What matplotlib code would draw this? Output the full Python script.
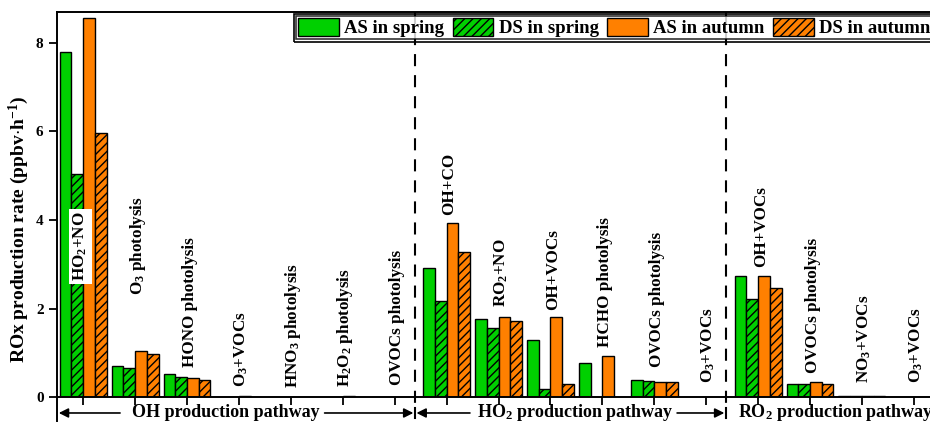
import matplotlib
matplotlib.use("Agg")
import matplotlib.pyplot as plt
from matplotlib.patches import Rectangle
import numpy as np

plt.rcParams['font.family'] = ['Liberation Serif', 'DejaVu Serif']
plt.rcParams['font.weight'] = 'bold'
plt.rcParams['mathtext.fontset'] = 'custom'
plt.rcParams['mathtext.rm'] = 'Liberation Serif:bold'
plt.rcParams['mathtext.it'] = 'Liberation Serif:bold'
plt.rcParams['mathtext.bf'] = 'Liberation Serif:bold'
plt.rcParams['hatch.linewidth'] = 1.0

# Reaction pathways (rotated labels above each bar group)
pathways = [
    r'HO$_2$+NO', r'O$_3$ photolysis', 'HONO photolysis', r'O$_3$+VOCs',
    r'HNO$_3$ photolysis', r'H$_2$O$_2$ photolysis', 'OVOCs photolysis',
    'OH+CO', r'RO$_2$+NO', 'OH+VOCs', 'HCHO photolysis', 'OVOCs photolysis',
    r'O$_3$+VOCs',
    'OH+VOCs', 'OVOCs photolysis', r'NO$_3$+VOCs', r'O$_3$+VOCs',
]

# Production rates (ppbv h-1)
as_spring = [7.78, 0.70, 0.52, 0.01, 0.01, 0.01, 0.00,
             2.91, 1.76, 1.29, 0.78, 0.38, 0.01,
             2.74, 0.31, 0.02, 0.01]
ds_spring = [5.03, 0.65, 0.46, 0.01, 0.01, 0.01, 0.00,
             2.17, 1.57, 0.19, 0.00, 0.37, 0.01,
             2.21, 0.29, 0.02, 0.01]
as_autumn = [8.56, 1.05, 0.44, 0.02, 0.01, 0.04, 0.00,
             3.92, 1.82, 1.82, 0.92, 0.35, 0.01,
             2.73, 0.34, 0.02, 0.01]
ds_autumn = [5.95, 0.98, 0.40, 0.01, 0.01, 0.01, 0.00,
             3.27, 1.71, 0.29, 0.00, 0.35, 0.01,
             2.46, 0.31, 0.02, 0.01]

series_names = ['AS in spring', 'DS in spring', 'AS in autumn', 'DS in autumn']

# Heights at which the rotated pathway labels start
label_y = [3.4, 2.3, 0.68, 0.23, 0.2, 0.23, 0.27,
           4.1, 2.03, 1.97, 1.13, 0.69, 0.32,
           2.94, 0.55, 0.32, 0.32]

groups = ['OH production pathway', r'HO$_2$ production pathway',
          r'RO$_2$ production pathway']

GREEN = '#00D000'
ORANGE = '#FF8000'

fig = plt.figure(figsize=(9.30, 4.25), dpi=100)
ax = fig.add_axes([0.061, 0.0652, 0.9495, 0.9077])

x = np.arange(len(pathways))
w = 0.226
styles = [(GREEN, None), (GREEN, '////'), (ORANGE, None), (ORANGE, '////')]
for k, (vals, (col, hatch)) in enumerate(zip([as_spring, ds_spring, as_autumn, ds_autumn], styles)):
    ax.bar(x + (k - 1.5) * w, vals, width=w, color=col, edgecolor='black',
           linewidth=1.0, hatch=hatch, label=series_names[k], zorder=2)

ax.set_xlim(-0.51, 16.5)
ax.set_ylim(0, 8.7)
ax.set_xticks(x)
ax.set_xticklabels([])
ax.set_yticks([0, 2, 4, 6, 8])
ax.tick_params(axis='both', direction='out', length=6, width=1.3, labelsize=11)
for lbl in ax.get_yticklabels():
    lbl.set_fontweight('bold')
for side in ['left', 'bottom', 'top']:
    ax.spines[side].set_linewidth(1.4)
ax.spines['right'].set_visible(False)

ax.set_ylabel(r'ROx production rate (ppbv$\cdot$h$^{-1}$)', fontsize=14,
              fontweight='bold')
ax.yaxis.set_label_coords(-0.029, 0.435)

# Pathway labels
for i, (name, yy) in enumerate(zip(pathways, label_y)):
    if i == 0:
        ax.text(i - 0.06, yy, name, rotation=90, ha='center', va='center',
                fontsize=12.3, fontweight='bold', zorder=4,
                bbox=dict(facecolor='white', edgecolor='none', pad=2.0))
    else:
        ax.text(i + 0.05, yy, name, rotation=90, ha='center', va='bottom',
                fontsize=12.3, fontweight='bold', zorder=4)

# Group separators
for xs in [6.39, 12.38]:
    ax.plot([xs, xs], [8.7, -0.2], color='black', lw=1.5,
            dashes=(5.8, 4.3), clip_on=False, zorder=1)

# Left spine extends down to the pathway row
ax.plot([-0.51, -0.51], [0, -0.53], color='black', lw=1.4, clip_on=False)

# Pathway arrows below the axis
yrow = -0.354
arrow_kw = dict(arrowstyle='-|>', color='black', lw=1.2,
                mutation_scale=14, shrinkA=0, shrinkB=0)
arrows = [(0.71, -0.47), (4.65, 6.36), (7.45, 6.42), (11.44, 12.35)]
for x0, x1 in arrows:
    ax.annotate('', xy=(x1, yrow), xytext=(x0, yrow),
                arrowprops=arrow_kw, annotation_clip=False)
for xb in [6.39, 12.38]:
    ax.plot([xb, xb], [yrow - 0.12, yrow + 0.12], color='black', lw=1.5,
            clip_on=False)

ax.text(2.75, yrow, groups[0], ha='center', va='center', fontsize=13,
        fontweight='bold')
ax.text(9.49, yrow, groups[1], ha='center', va='center', fontsize=13,
        fontweight='bold')
ax.text(12.62, yrow, groups[2], ha='left', va='center', fontsize=13,
        fontweight='bold')

leg = ax.legend(ncol=4, loc='upper left', bbox_to_anchor=(0.2715, 0.988),
                fontsize=13.5, frameon=True, fancybox=False, edgecolor='black',
                handlelength=2.15, handleheight=1.1, handletextpad=0.3,
                columnspacing=0.46, borderpad=0.1, borderaxespad=0)
leg.get_frame().set_linewidth(1.2)
for t in leg.get_texts():
    t.set_fontweight('bold')

fig.canvas.draw()
bb = leg.get_window_extent()
pad = 2.5
outer = Rectangle((bb.x0 - pad, bb.y0 - pad), bb.width + 2 * pad,
                  bb.height + 2 * pad, transform=None, fill=False,
                  edgecolor='black', linewidth=1.2, zorder=10)
fig.patches.append(outer)

fig.savefig('out.png', dpi=100)
